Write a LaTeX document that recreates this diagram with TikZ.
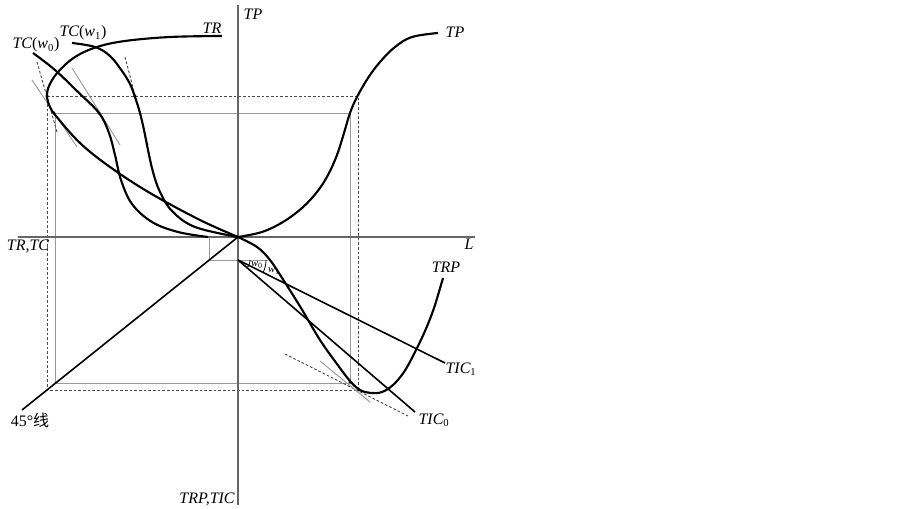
\documentclass[tikz,border=0pt]{standalone}
\usepackage{fontspec}
\setmainfont{Liberation Serif}
\newfontfamily\cjk{Noto Sans CJK SC}
\begin{document}
\begin{tikzpicture}[x=0.75pt,y=-0.75pt,
  curve/.style={line width=1.6pt,black,line join=round},
  straight/.style={line width=1.2pt,black},
  axis/.style={line width=0.8pt,black!60},
  guide/.style={line width=0.7pt,black!40},
  dguide/.style={line width=0.7pt,black!70,dash pattern=on 2pt off 1.5pt},
  lbl/.style={font=\fontsize{12}{14}\selectfont\itshape,inner sep=0pt},
  sml/.style={font=\fontsize{8}{9}\selectfont\itshape,inner sep=0pt},
  dot/.style={circle,fill=black,inner sep=0pt,minimum size=2.5pt}]
\useasboundingbox (0,0) rectangle (903,509);
% key points
\coordinate (O) at (238,237);
\coordinate (F) at (238,260);
\coordinate (ytop) at (238,5);
\coordinate (ybot) at (238,505);
\coordinate (xl) at (18,237);
\coordinate (xr) at (475,237);
\coordinate (fl) at (22,410);
% guide rectangles (gray solid and dashed)
\draw[guide] (55,113) -- (350,113) -- (350,383) -- (55,383) -- cycle;
\draw[dguide] (47,96) -- (358,96) -- (358,390) -- (47,390) -- cycle;
% small gray box to fixed cost
\draw[guide] (209,237) -- (209,260) -- (268,260);
% axes
\draw[axis] (ytop) -- (ybot);
\draw[axis] (xl) -- (xr);
% tangent lines upper left
\draw[guide] (32,80) -- (77,147);
\draw[dguide] (37,62) -- (57,132);
\draw[guide] (72,68) -- (120,145);
\draw[dguide] (125,57) -- (148,145);
% tangent lines lower right
\draw[dguide] (285,354) -- (408,416);
\draw[guide] (320,361) -- (370,402);
% 45 degree line
\draw[straight] (O) -- (fl);
% TIC lines
\coordinate (tic1e) at (445,363);
\coordinate (tic0e) at (415,412);
\draw[straight] (F) -- (tic1e);
\draw[straight] (F) -- (tic0e);
% angle arcs
\draw[line width=0.6pt] plot[domain=0:40.7,samples=12] ({238+12*cos(\x)},{260+12*sin(\x)});
\draw[line width=0.6pt] plot[domain=0:26.6,samples=12] ({238+28*cos(\x)},{260+28*sin(\x)});
\node[sml] (w0) at (257,265) {w\textsubscript{\upshape 0}};
\node[sml] (w1) at (274,271) {w\textsubscript{\upshape 1}};
% TR curve
\draw[curve] plot[smooth,tension=0.6] coordinates {(222,36) (170,37) (125,41) (97,47) (75,57) (58,72) (49,86) (47,97) (50,107) (56,116) (80,143) (110,167) (150,193) (200,220) (238,237)};
% TC(w0)
\draw[curve] plot[smooth,tension=0.6] coordinates {(33,53) (55,70) (78,92) (99,113) (109,133) (115,155) (121,180) (132,204) (152,222) (178,232) (208,237)};
% TC(w1)
\draw[curve] plot[smooth,tension=0.6] coordinates {(72,43) (95,47) (110,56) (122,71) (130,84) (135,97) (140,113) (144,130) (148,150) (153,172) (160,192) (172,211) (195,227) (238,237)};
% TP
\draw[curve] plot[smooth,tension=0.6] coordinates {(238,237) (262,232) (283,222) (302,208) (317,192) (328,175) (337,155) (344,133) (350,113) (357,97) (368,78) (380,62) (395,47) (412,37) (438,33)};
% TRP
\draw[curve] plot[smooth,tension=0.6] coordinates {(238,237) (257,247) (270,260) (284,281) (301,308) (320,340) (337,364) (350,381) (360,390) (371,393) (382,392) (393,385) (404,372) (414,354) (425,331) (434,308) (443,278)};
% dots
\node[dot] (d1) at (47,96) {};
\node[dot] (d2) at (54,113) {};
\node[dot] (d3) at (99,113) {};
\node[dot] (d4) at (135,96) {};
\node[dot] (d5) at (350,382) {};
\node[dot] (d6) at (359,390) {};
% labels
\node[lbl] (lTP) at (253,14) {TP};
\node[lbl] (lTP2) at (455,32) {TP};
\node[lbl] (lTR) at (212,28) {TR};
\node[lbl] (lTCw0) at (36,45) {TC{\upshape(}w\textsubscript{\upshape 0}{\upshape)}};
\node[lbl] (lTCw1) at (83,33) {TC{\upshape(}w\textsubscript{\upshape 1}{\upshape)}};
\node[lbl] (lTRTC) at (28,246) {TR,TC};
\node[lbl] (lL) at (469,244) {L};
\node[lbl] (lTRP) at (446,267) {TRP};
\node[lbl] (lTIC1) at (461,369) {TIC\textsubscript{\upshape 1}};
\node[lbl] (lTIC0) at (434,420) {TIC\textsubscript{\upshape 0}};
\node[lbl] (lTRPTIC) at (207,499) {TRP,TIC};
\node[font=\fontsize{12}{14}\selectfont,inner sep=0pt] (l45) at (30,420) {45°{\cjk 线}};
\end{tikzpicture}
\end{document}
